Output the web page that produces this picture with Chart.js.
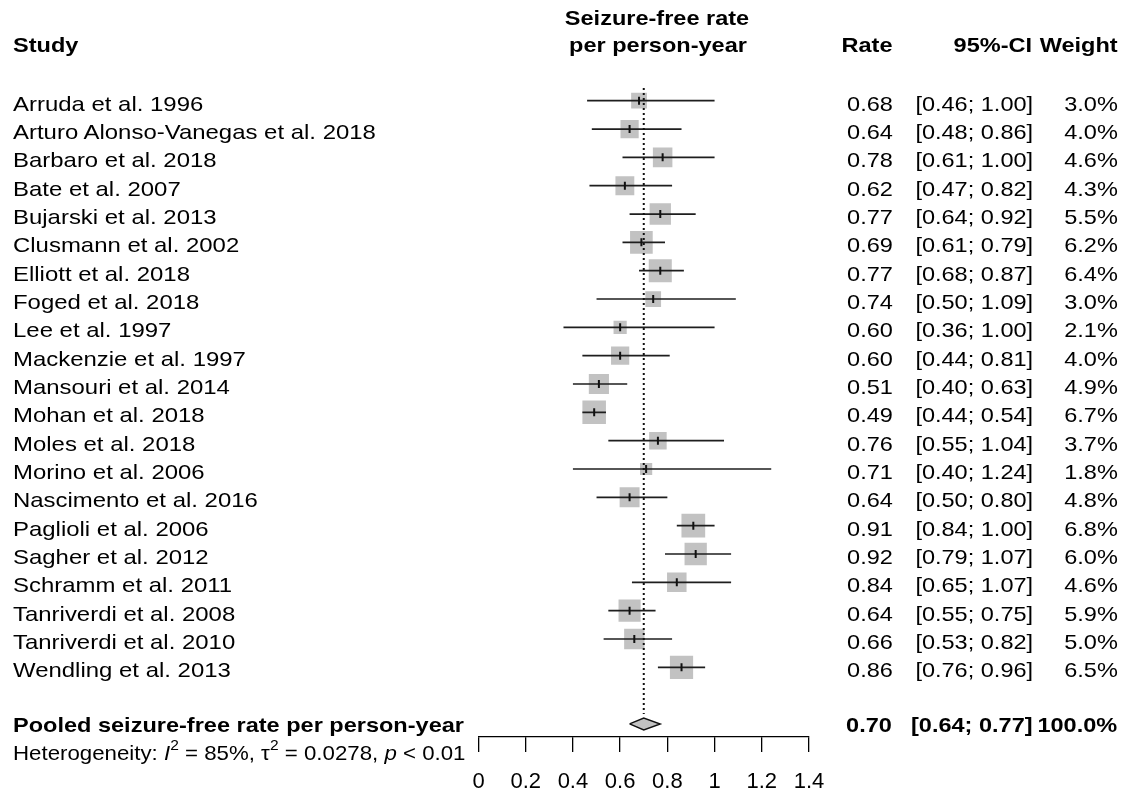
<!DOCTYPE html>
<html>
<head>
<meta charset="utf-8">
<title>Seizure-free rate forest plot</title>
<script src="https://cdn.jsdelivr.net/npm/chart.js@4.4.1/dist/chart.umd.min.js"></script>
<style>
  html, body { margin: 0; padding: 0; background: #fff; }
  #wrap { position: relative; width: 1127px; height: 795px; overflow: hidden;
          font-family: "Liberation Sans", Arial, Helvetica, sans-serif; color: #000; }
  #plot { position: absolute; left: 0; top: 0; }
  .t { position: absolute; white-space: nowrap; font-size: 21px; line-height: 24px; }
  .l { transform-origin: left center; transform: scaleX(1.14); }
  .r { transform-origin: right center; transform: scaleX(1.12); text-align: right; }
  .c { transform: translateX(-50%) scaleX(1.12); }
  .b { font-weight: bold; }
  .l.b { transform: scaleX(1.12); }
  .het { transform-origin: left center; transform: scaleX(1.06); }
  .het sup { font-size: 0.7em; line-height: 0; position: relative; top: -0.1em; }
</style>
</head>
<body>
<div id="wrap">
  <canvas id="plot" width="1127" height="795"></canvas>
</div>
<script>
// study data
const studies = [
  'Arruda et al. 1996', 'Arturo Alonso-Vanegas et al. 2018', 'Barbaro et al. 2018',
  'Bate et al. 2007', 'Bujarski et al. 2013', 'Clusmann et al. 2002', 'Elliott et al. 2018',
  'Foged et al. 2018', 'Lee et al. 1997', 'Mackenzie et al. 1997', 'Mansouri et al. 2014',
  'Mohan et al. 2018', 'Moles et al. 2018', 'Morino et al. 2006', 'Nascimento et al. 2016',
  'Paglioli et al. 2006', 'Sagher et al. 2012', 'Schramm et al. 2011', 'Tanriverdi et al. 2008',
  'Tanriverdi et al. 2010', 'Wendling et al. 2013'
];
const rates   = [0.68, 0.64, 0.78, 0.62, 0.77, 0.69, 0.77, 0.74, 0.60, 0.60, 0.51, 0.49, 0.76, 0.71, 0.64, 0.91, 0.92, 0.84, 0.64, 0.66, 0.86];
const lower   = [0.46, 0.48, 0.61, 0.47, 0.64, 0.61, 0.68, 0.50, 0.36, 0.44, 0.40, 0.44, 0.55, 0.40, 0.50, 0.84, 0.79, 0.65, 0.55, 0.53, 0.76];
const upper   = [1.00, 0.86, 1.00, 0.82, 0.92, 0.79, 0.87, 1.09, 1.00, 0.81, 0.63, 0.54, 1.04, 1.24, 0.80, 1.00, 1.07, 1.07, 0.75, 0.82, 0.96];
const weights = [3.0, 4.0, 4.6, 4.3, 5.5, 6.2, 6.4, 3.0, 2.1, 4.0, 4.9, 6.7, 3.7, 1.8, 4.8, 6.8, 6.0, 4.6, 5.9, 5.0, 6.5];

// pooled estimate
const pooledLabel = 'Pooled seizure-free rate per person-year';
const pooledRate = 0.70;
const pooledCI = [0.64, 0.77];
const pooledWeight = 100.0;

// x axis
const xTicks = [0, 0.2, 0.4, 0.6, 0.8, 1.0, 1.2, 1.4];
const xTickLabels = ['0', '0.2', '0.4', '0.6', '0.8', '1', '1.2', '1.4'];

const pooledRow = studies.length + 1; // one blank row before the summary
const rowIdx = studies.map((s, i) => i);

// box side grows with sqrt(weight); rect radius -> side = radius * sqrt(2)
const boxRadius = w => 9.1 * Math.sqrt(w) / Math.SQRT2;

const ciSets = rowIdx.map(i => ({
  type: 'line',
  data: [{ x: lower[i], y: i }, { x: upper[i], y: i }],
  borderColor: '#1e1e1e',
  borderWidth: 1.7,
  pointRadius: 0,
  fill: false,
  order: 2
}));

const datasets = [
  {
    // grey weight boxes
    type: 'scatter',
    data: rowIdx.map(i => ({ x: rates[i], y: i })),
    pointStyle: 'rect',
    pointRadius: weights.map(boxRadius),
    backgroundColor: '#c2c2c2',
    borderWidth: 0,
    order: 4
  },
  ...ciSets,
  {
    // point estimate ticks
    type: 'scatter',
    data: rowIdx.map(i => ({ x: rates[i], y: i })),
    pointStyle: 'line',
    pointRotation: 90,
    pointRadius: 4,
    borderColor: '#111',
    borderWidth: 2,
    order: 1
  },
  {
    // summary diamond
    type: 'line',
    data: [
      { x: pooledCI[0], y: pooledRow },
      { x: pooledRate, y: pooledRow - 0.21 },
      { x: pooledCI[1], y: pooledRow },
      { x: pooledRate, y: pooledRow + 0.21 },
      { x: pooledCI[0], y: pooledRow }
    ],
    borderColor: '#111',
    borderWidth: 1.4,
    backgroundColor: '#c2c2c2',
    fill: 'shape',
    pointRadius: 0,
    order: 2
  },
  {
    // dotted reference line at the pooled rate
    type: 'line',
    data: [{ x: pooledRate, y: -0.45 }, { x: pooledRate, y: pooledRow - 0.35 }],
    borderColor: '#111',
    borderWidth: 2,
    borderDash: [2, 3],
    pointRadius: 0,
    fill: false,
    order: 0
  }
];

const chart = new Chart(document.getElementById('plot'), {
  type: 'scatter',
  data: { datasets },
  options: {
    responsive: false,
    animation: false,
    events: [],
    layout: { autoPadding: false, padding: { left: 478.5, right: 318, top: 0, bottom: 0 } },
    plugins: { legend: { display: false }, tooltip: { enabled: false } },
    scales: {
      x: {
        type: 'linear',
        min: 0,
        max: 1.4,
        afterBuildTicks: s => { s.ticks = xTicks.map(v => ({ value: v })); },
        afterFit: s => { s.height = 58; },
        grid: { drawOnChartArea: false, drawTicks: true, tickLength: 15, color: '#000', lineWidth: 1.3 },
        border: { display: true, color: '#000', width: 1.3 },
        ticks: {
          autoSkip: false,
          maxRotation: 0,
          padding: 17,
          color: '#000',
          font: { family: '"Liberation Sans", Arial, sans-serif', size: 22 },
          callback: (v, i) => xTickLabels[i]
        }
      },
      y: {
        type: 'linear',
        display: false,
        reverse: true,
        min: -3.555,
        max: 22.46
      }
    }
  }
});

// text columns, placed on the rows of the chart's y scale
const wrap = document.getElementById('wrap');
function addText(html, cls, x, top, align) {
  const d = document.createElement('div');
  d.className = 't ' + cls;
  d.innerHTML = html;
  d.style.top = top + 'px';
  if (align === 'r') d.style.right = (1127 - x) + 'px';
  else d.style.left = x + 'px';
  wrap.appendChild(d);
}

const yScale = chart.scales.y;
const fmt = v => v.toFixed(2);

// headers
addText('Seizure-free rate', 'c b', 657, 6);
addText('per person-year', 'c b', 658, 33);
addText('Study', 'l b', 13, 33);
addText('Rate', 'r b', 893, 33, 'r');
addText('95%-CI', 'r b', 1032, 33, 'r');
addText('Weight', 'r b', 1118, 33, 'r');

studies.forEach((name, i) => {
  const top = yScale.getPixelForValue(i) - 9;
  addText(name, 'l', 13, top);
  addText(fmt(rates[i]), 'r', 893, top, 'r');
  addText('[' + fmt(lower[i]) + '; ' + fmt(upper[i]) + ']', 'r', 1033, top, 'r');
  addText(weights[i].toFixed(1) + '%', 'r', 1118, top, 'r');
});

const pTop = yScale.getPixelForValue(pooledRow) - 11;
addText(pooledLabel, 'l b', 13, pTop);
addText(fmt(pooledRate), 'r b', 892, pTop, 'r');
addText('[' + fmt(pooledCI[0]) + '; ' + fmt(pooledCI[1]) + ']', 'r b', 1033, pTop, 'r');
addText(pooledWeight.toFixed(1) + '%', 'r b', 1117, pTop, 'r');

addText('Heterogeneity: <i>I</i><sup>2</sup> = 85%, \u03c4<sup>2</sup> = 0.0278, <i>p</i> &lt; 0.01',
  'het', 13, pTop + 28);
</script>
</body>
</html>
